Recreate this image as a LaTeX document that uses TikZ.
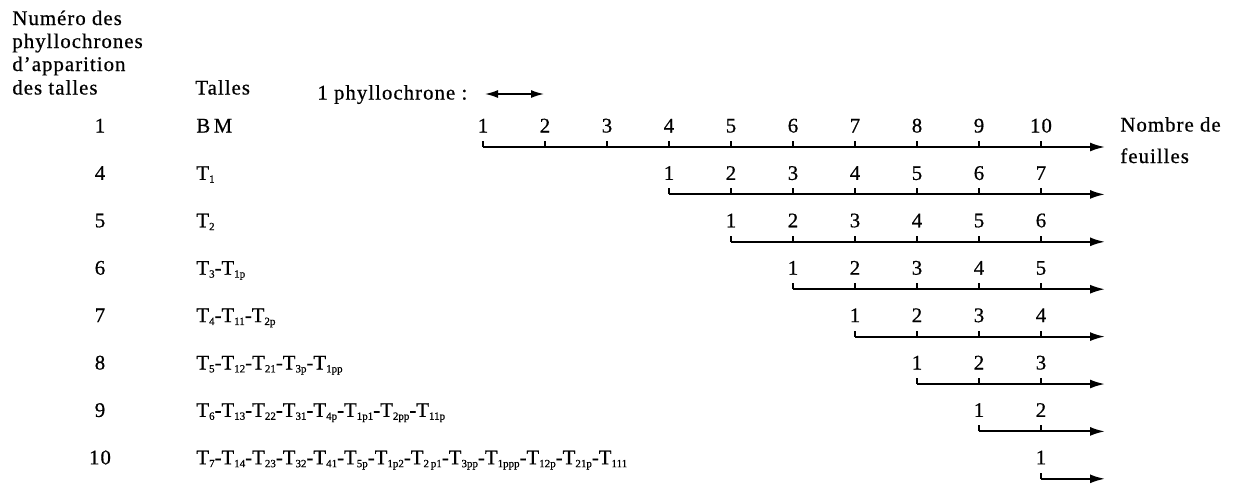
\documentclass[tikz,border=0pt]{standalone}
\usepackage{fontspec}
\setmainfont{Liberation Serif}[LetterSpace=5,FakeBold=0.6]
\usetikzlibrary{arrows.meta}
\tikzstyle{lbl} = [inner sep=0,anchor=base]
\tikzstyle{txt} = [inner sep=0,anchor=base west]
\tikzstyle{tal} = [txt,font=\fontsize{10.4}{12}\selectfont\addfontfeature{LetterSpace=0}]
\tikzstyle{axis} = [line width=1pt,-{Latex[length=7.5pt,width=4.5pt]}]
\tikzstyle{tick} = [line width=1pt]
\tikzstyle{span} = [line width=0.8pt,{Latex[length=6.5pt,width=4pt]}-{Latex[length=6.5pt,width=4pt]}]
\newcommand{\tl}[1]{T\raisebox{-0.3ex}{\fontsize{5.5}{6}\selectfont #1}}

\begin{document}
\begin{tikzpicture}[x=0.5pt,y=-0.5pt,font=\fontsize{10.4}{12}\selectfont]
    \useasboundingbox (0,0) rectangle (1236,484);
    \node [txt] (h1) at (12,25) {Numéro des};
    \node [txt] (h2) at (12,48) {phyllochrones};
    \node [txt] (h3) at (12,71) {d'apparition};
    \node [txt] (h4) at (12,94.5) {des talles};
    \node [txt] (h5) at (195,94.5) {Talles};
    \node [txt] (ph) at (317,99.5) {1 phyllochrone :};
    \coordinate (p1) at (485,94);
    \coordinate (p2) at (544,94);
    \draw [span] (p1) -- (p2);
    \node [txt] (nb1) at (1120,131.5) {Nombre de};
    \node [txt] (nb2) at (1120,163) {feuilles};
    \foreach \n/\tal/\c [count=\i] in {1/B\,M/1, 4/\tl{1}/4, 5/\tl{2}/5, 6/\tl{3}-\tl{1p}/6,
        7/\tl{4}-\tl{11}-\tl{2p}/7, 8/\tl{5}-\tl{12}-\tl{21}-\tl{3p}-\tl{1pp}/8,
        9/\tl{6}-\tl{13}-\tl{22}-\tl{31}-\tl{4p}-\tl{1p1}-\tl{2pp}-\tl{11p}/9,
        10/\tl{7}-\tl{14}-\tl{23}-\tl{32}-\tl{41}-\tl{5p}-\tl{1p2}-\tl{2\,p1}-\tl{3pp}-\tl{1ppp}-\tl{12p}-\tl{21p}-\tl{111}/10}{
      \pgfmathsetmacro{\yl}{132.5+47.4*(\i-1)}
      \pgfmathsetmacro{\ya}{147+47.4*(\i-1)}
      \pgfmathsetmacro{\xs}{483+62*(\c-1)}
      \node [lbl] (n\i) at (100,\yl) {\n};
      \node [tal] (t\i) at (196,\yl) {\tal};
      \coordinate (s\i) at (\xs,\ya);
      \coordinate (e\i) at (1105,\ya);
      \draw [axis] (s\i) -- (e\i);
      \foreach \k in {\c,...,10}{
        \pgfmathtruncatemacro{\m}{\k-\c+1}
        \node [lbl] (f\i-\k) at ({483+62*(\k-1)},\yl) {\m};
        \draw [tick] ({483+62*(\k-1)},\ya) -- ++(0,-6);
      }
    }
  \end{tikzpicture}
\end{document}
